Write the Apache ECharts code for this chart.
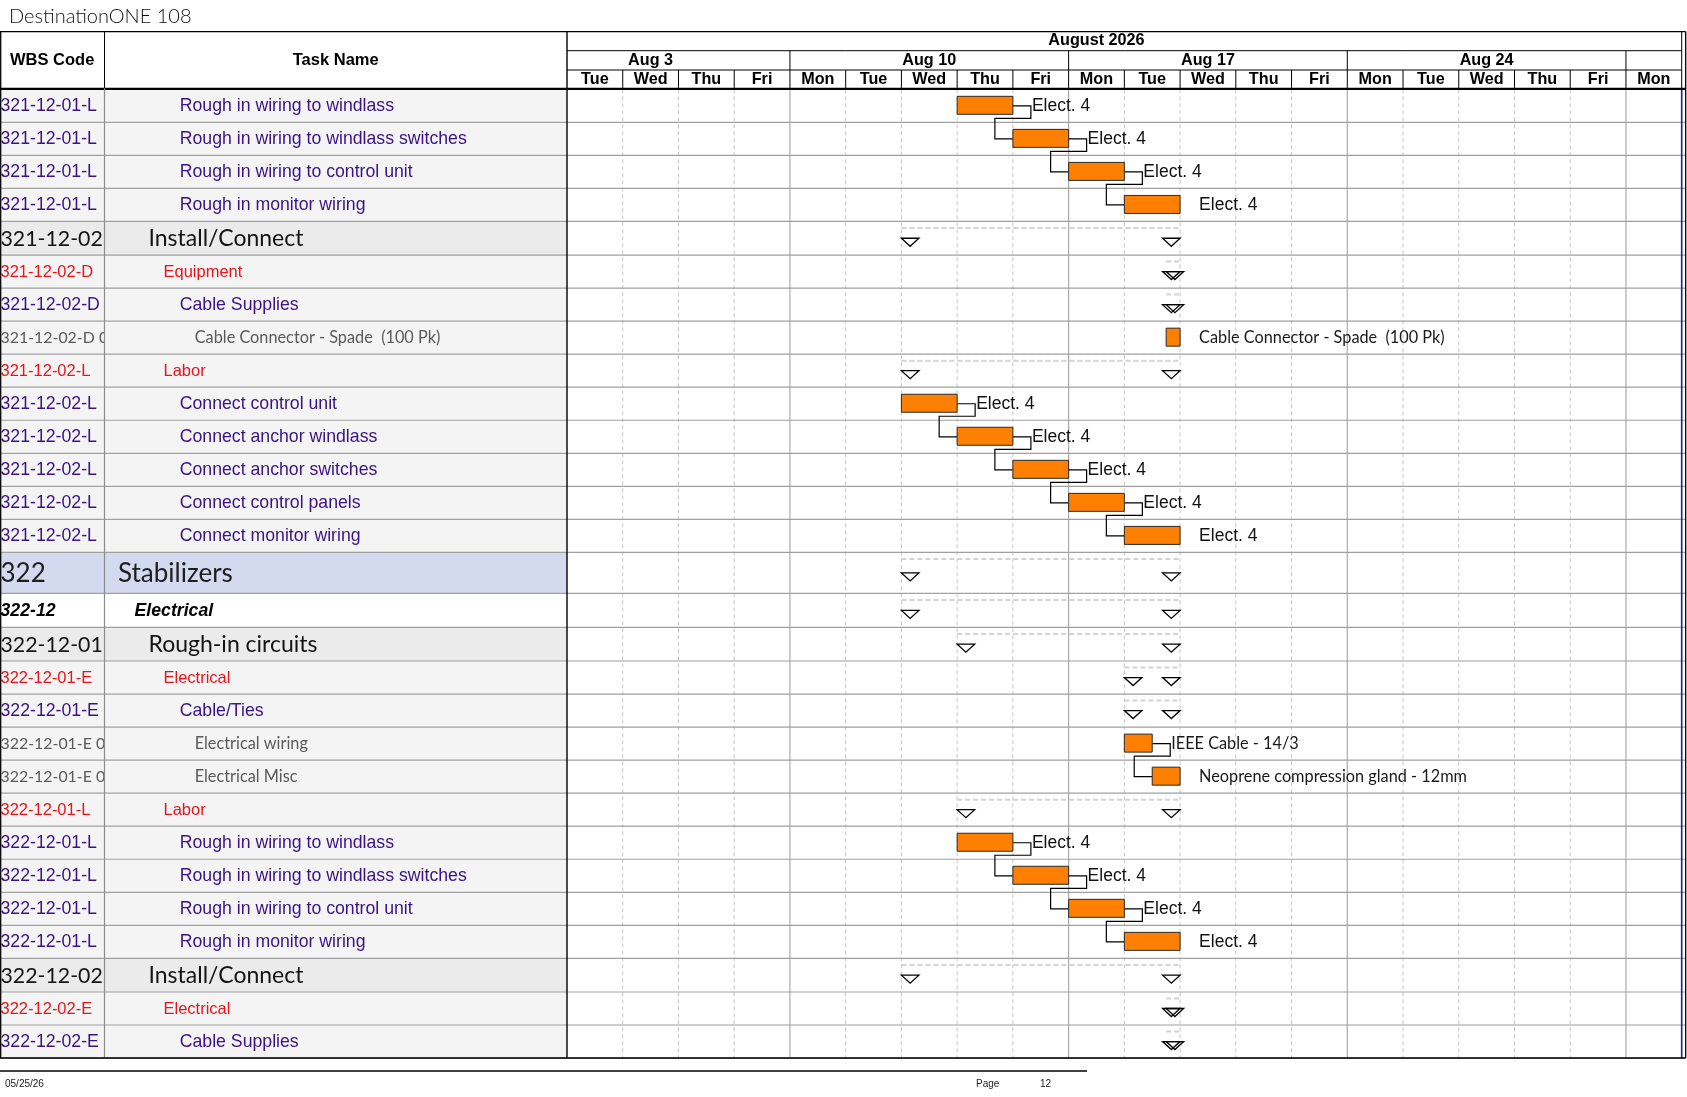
<!DOCTYPE html>
<html><head><meta charset="utf-8">
<script src="https://cdn.jsdelivr.net/npm/echarts@6/dist/echarts.min.js"></script>
<style>html,body{margin:0;padding:0;background:#fff}#c{width:1687px;height:1097px}</style>
</head><body><div id="c"></div>
<script>
// ---------------- data ----------------
const titleText = 'DestinationONE 108';
const footerDate = '05/25/26';
const footerPageLabel = 'Page';
const footerPageNumber = '12';
const headerWbs = 'WBS Code';
const headerTask = 'Task Name';
const monthLabel = 'August 2026';
const monthSpan = [-1, 20];
const weekLabels = ['Aug 3', 'Aug 10', 'Aug 17', 'Aug 24', ''];
const weekStarts = [-1, 4, 9, 14, 19];
const dayNames = ['Tue','Wed','Thu','Fri','Mon','Tue','Wed','Thu','Fri','Mon','Tue','Wed','Thu','Fri','Mon','Tue','Wed','Thu','Fri','Mon'];

const wbsCodes = [
  '321-12-01-L','321-12-01-L','321-12-01-L','321-12-01-L',
  '321-12-02','321-12-02-D','321-12-02-D','321-12-02-D 0','321-12-02-L',
  '321-12-02-L','321-12-02-L','321-12-02-L','321-12-02-L','321-12-02-L',
  '322','322-12','322-12-01','322-12-01-E','322-12-01-E','322-12-01-E 0','322-12-01-E 0',
  '322-12-01-L','322-12-01-L','322-12-01-L','322-12-01-L','322-12-01-L',
  '322-12-02','322-12-02-E','322-12-02-E'
];
const taskNames = [
  'Rough in wiring to windlass','Rough in wiring to windlass switches','Rough in wiring to control unit','Rough in monitor wiring',
  'Install/Connect','Equipment','Cable Supplies','Cable Connector - Spade  (100 Pk)','Labor',
  'Connect control unit','Connect anchor windlass','Connect anchor switches','Connect control panels','Connect monitor wiring',
  'Stabilizers','Electrical','Rough-in circuits','Electrical','Cable/Ties','Electrical wiring','Electrical Misc',
  'Labor','Rough in wiring to windlass','Rough in wiring to windlass switches','Rough in wiring to control unit','Rough in monitor wiring',
  'Install/Connect','Electrical','Cable Supplies'
];
const rowLevel = [
  'task','task','task','task',
  'phase','resource','group','item','resource',
  'task','task','task','task','task',
  'section','area','phase','resource','group','item','item',
  'resource','task','task','task','task',
  'phase','resource','group'
];

// bars (working-day index: 0 = Tue Aug 4)
const barRows   = [0, 1, 2, 3, 7, 9, 10, 11, 12, 13, 19, 20, 22, 23, 24, 25];
const barStart  = [7, 8, 9, 10, 10.75, 6, 7, 8, 9, 10, 10, 10.5, 7, 8, 9, 10];
const barEnd    = [8, 9, 10, 11, 11, 7, 8, 9, 10, 11, 10.5, 11, 8, 9, 10, 11];
const barLabels = ['Elect. 4','Elect. 4','Elect. 4','Elect. 4','Cable Connector - Spade  (100 Pk)',
  'Elect. 4','Elect. 4','Elect. 4','Elect. 4','Elect. 4',
  'IEEE Cable - 14/3','Neoprene compression gland - 12mm',
  'Elect. 4','Elect. 4','Elect. 4','Elect. 4'];
// finish-to-start links between bars (bar indices)
const links = [[0,1],[1,2],[2,3],[5,6],[6,7],[7,8],[8,9],[10,11],[12,13],[13,14],[14,15]];

// summary rows
const summaryRows  = [4, 5, 6, 8, 14, 15, 16, 17, 18, 21, 26, 27, 28];
const summaryStart = [6, 10.75, 10.75, 6, 6, 6, 7, 10, 10, 7, 6, 10.75, 10.75];
const summaryEnd   = [11, 11, 11, 11, 11, 11, 11, 11, 11, 11, 11, 11, 11];

// ---------------- layout / styles ----------------
const LAYOUT = {left:567, right:1681.7, outerRight:1685.7, top:89.3, headTop:31.7, monthBottom:50.7,
  weekBottom:70, headBottom:88.3, wbsRight:104.5};
const ROW_H = {task:33.04, resource:33.04, group:33.04, item:33.04, phase:33.6, section:41, area:34};
const FONT_A = '"Liberation Sans", Arial, sans-serif';
const FONT_C = 'Lato, "Open Sans", sans-serif';
const PURPLE = '#3a1385';
const LEVEL_STYLE = {
  task:     {indent:179.7, color:PURPLE,    family:FONT_A, size:17.7, wbsSize:17.7, weight:'normal', fstyle:'normal', bg:'#f4f4f4'},
  group:    {indent:179.7, color:PURPLE,    family:FONT_A, size:17.7, wbsSize:17.7, weight:'normal', fstyle:'normal', bg:'#f4f4f4'},
  resource: {indent:163.5, color:'#e8141c', family:FONT_A, size:16.5, wbsSize:16.5, weight:'normal', fstyle:'normal', bg:'#f4f4f4'},
  item:     {indent:194.7, color:'#5a5a5a', family:FONT_C, size:16.3, wbsSize:15.9, weight:'normal', fstyle:'normal', bg:'#f4f4f4'},
  phase:    {indent:148.5, color:'#141414', family:FONT_C, size:23,   wbsSize:21.3, weight:'normal', fstyle:'normal', bg:'#ebebeb'},
  section:  {indent:118,   color:'#1e1e1e', family:FONT_C, size:26,   wbsSize:26,   weight:'normal', fstyle:'normal', bg:'#d3d9ef'},
  area:     {indent:134.5, color:'#000000', family:FONT_A, size:17.7, wbsSize:17.7, weight:'bold',   fstyle:'italic', bg:'#ffffff'}
};

const rowTop = []; let acc = 0;
rowLevel.forEach(lv => { rowTop.push(acc); acc += ROW_H[lv]; });
const totalH = acc;
const rowMid = i => rowTop[i] + ROW_H[rowLevel[i]] / 2;
const rowBot = i => rowTop[i] + ROW_H[rowLevel[i]];

function txt(x, y, text, st, align, size) {
  return {type:'text', x:x, y:y, style:{text:text, fill:st.color, fontFamily:st.family, fontSize:size||st.size,
    fontWeight:st.weight, fontStyle:st.fstyle, align:align||'left', textAlign:align||'left',
    verticalAlign:'middle', textVerticalAlign:'middle'}};
}
const HEAD = {color:'#000', family:FONT_A, size:16.2, weight:'bold', fstyle:'normal'};

const rowData = rowLevel.map((lv, i) => [0, 0, rowTop[i], rowBot(i)]);

const series = [];
// WBS column background
series.push({type:'custom', z:1, silent:true, data:rowData, encode:{x:[0,1], y:[2,3]},
  renderItem:(p, api) => {
    const i = p.dataIndex;
    const y0 = api.coord([0, rowTop[i]])[1], y1 = api.coord([0, rowBot(i)])[1];
    return {type:'rect', shape:{x:0, y:y0, width:LAYOUT.wbsRight, height:y1-y0}, style:{fill:LEVEL_STYLE[rowLevel[i]].bg}};
  }});
// WBS codes
series.push({type:'custom', z:2, silent:true, data:rowData, encode:{x:[0,1], y:[2,3]},
  renderItem:(p, api) => {
    const i = p.dataIndex;
    const st = LEVEL_STYLE[rowLevel[i]];
    const y = api.coord([0, rowMid(i)])[1];
    return txt(0.5, y + 0.5, wbsCodes[i], st, 'left', st.wbsSize);
  }});
// Task column background (also hides WBS overflow)
series.push({type:'custom', z:3, silent:true, data:rowData, encode:{x:[0,1], y:[2,3]},
  renderItem:(p, api) => {
    const i = p.dataIndex;
    const y0 = api.coord([0, rowTop[i]])[1], y1 = api.coord([0, rowBot(i)])[1];
    return {type:'rect', shape:{x:LAYOUT.wbsRight, y:y0, width:LAYOUT.left-LAYOUT.wbsRight, height:y1-y0},
      style:{fill:LEVEL_STYLE[rowLevel[i]].bg}};
  }});
// Task names + row separator lines
series.push({type:'custom', z:4, silent:true, data:rowData, encode:{x:[0,1], y:[2,3]},
  renderItem:(p, api) => {
    const i = p.dataIndex;
    const st = LEVEL_STYLE[rowLevel[i]];
    const y = api.coord([0, rowMid(i)])[1];
    const yb = api.coord([0, rowBot(i)])[1];
    return {type:'group', children:[
      txt(st.indent, y + 0.5, taskNames[i], st),
      {type:'line', shape:{x1:0, y1:yb, x2:LAYOUT.outerRight, y2:yb}, style:{stroke:'#a0a0a0', lineWidth:1.2}}
    ]};
  }});
// gantt day grid lines
series.push({type:'custom', z:2, silent:true, data:dayNames.slice(1).map((d, k) => [k+1, k+1, 0, totalH]),
  encode:{x:[0,1], y:[2,3]},
  renderItem:(p, api) => {
    const k = p.dataIndex + 1;
    const a = api.coord([k, 0]), b = api.coord([k, totalH]);
    const week = dayNames[k] === 'Mon';
    return {type:'line', shape:{x1:a[0], y1:a[1], x2:b[0], y2:b[1]},
      style:{stroke: week ? '#ababab' : '#c6c6c6', lineWidth: week ? 1.2 : 1, lineDash: week ? null : [4, 3]}};
  }});
// header: day names
series.push({type:'custom', z:8, silent:true, data:dayNames.map((d, i) => [i, i+1, 0, 0]), encode:{x:[0,1], y:[2,3]},
  renderItem:(p, api) => {
    const i = p.dataIndex;
    const a = api.coord([api.value(0), 0])[0], b = api.coord([api.value(1), 0])[0];
    const ch = [txt((a+b)/2, 79.5, dayNames[i], HEAD, 'center')];
    if (i < dayNames.length - 1) ch.push({type:'line', shape:{x1:b, y1:LAYOUT.weekBottom, x2:b, y2:LAYOUT.headBottom}, style:{stroke:'#000', lineWidth:1}});
    return {type:'group', children:ch};
  }});
// header: week labels
series.push({type:'custom', z:8, silent:true, data:weekStarts.map((s, i) => [s, s+5, 0, 0]), encode:{x:[0,1], y:[2,3]},
  renderItem:(p, api) => {
    const i = p.dataIndex;
    const a = api.coord([api.value(0), 0])[0], b = api.coord([api.value(1), 0])[0];
    const ch = [txt((a+b)/2, 60.5, weekLabels[i], HEAD, 'center')];
    if (api.value(0) > 0) ch.push({type:'line', shape:{x1:a, y1:LAYOUT.monthBottom, x2:a, y2:LAYOUT.weekBottom}, style:{stroke:'#000', lineWidth:1}});
    return {type:'group', children:ch};
  }});
// header: month
series.push({type:'custom', z:8, silent:true, data:[[monthSpan[0], monthSpan[1], 0, 0]], encode:{x:[0,1], y:[2,3]},
  renderItem:(p, api) => {
    const a = api.coord([api.value(0), 0])[0], b = api.coord([api.value(1), 0])[0];
    return txt((a+b)/2, 41, monthLabel, HEAD, 'center');
  }});
// summary markers
series.push({type:'custom', z:7, silent:true,
  data:summaryRows.map((r, i) => [summaryStart[i], summaryEnd[i], rowTop[r], rowMid(r)]), encode:{x:[0,1], y:[2,3]},
  renderItem:(p, api) => {
    const s = api.coord([api.value(0), api.value(3)]), e = api.coord([api.value(1), api.value(3)]);
    const yt = api.coord([0, api.value(2)])[1];
    const cy = s[1], W = 17.5, H = 8;
    const tri = (x0) => ({type:'polygon', shape:{points:[[x0, cy], [x0+W, cy], [x0+W/2, cy+H]]},
      style:{fill:'none', stroke:'#000', lineWidth:1.3}});
    return {type:'group', children:[
      {type:'line', shape:{x1:s[0], y1:yt+6.5, x2:e[0], y2:yt+6.5}, style:{stroke:'#d2d2d2', lineWidth:2, lineDash:[5, 3]}},
      tri(e[0]-W), tri(s[0])
    ]};
  }});
// dependency links
series.push({type:'custom', z:6, silent:true,
  data:links.map(l => [barEnd[l[0]], barStart[l[1]], rowMid(barRows[l[0]]), rowMid(barRows[l[1]]), rowBot(barRows[l[0]])]),
  encode:{x:[0,1], y:[2,3]},
  renderItem:(p, api) => {
    const a = api.coord([api.value(0), api.value(2)]);
    const b = api.coord([api.value(1), api.value(3)]);
    const ym = api.coord([0, api.value(4)])[1] - 4;
    const d = 18;
    return {type:'polyline', shape:{points:[[a[0], a[1]], [a[0]+d, a[1]], [a[0]+d, ym], [b[0]-d, ym], [b[0]-d, b[1]], [b[0], b[1]]]},
      style:{fill:'none', stroke:'#000', lineWidth:1.2}};
  }});
// bars
series.push({type:'custom', z:7, silent:true,
  data:barRows.map((r, i) => [barStart[i], barEnd[i], rowMid(r), rowMid(r)]), encode:{x:[0,1], y:[2,3]},
  renderItem:(p, api) => {
    const i = p.dataIndex;
    const s = api.coord([api.value(0), api.value(2)]), e = api.coord([api.value(1), api.value(2)]);
    const item = rowLevel[barRows[i]] === 'item';
    const st = item ? {color:'#1a1a1a', family:FONT_C, size:16.3, weight:'normal', fstyle:'normal'}
                    : {color:'#111', family:FONT_A, size:17.5, weight:'normal', fstyle:'normal'};
    return {type:'group', children:[
      {type:'rect', shape:{x:s[0], y:s[1]-9.5, width:e[0]-s[0], height:18}, style:{fill:'#ff8000', stroke:'#2a2a2a', lineWidth:1}},
      txt(e[0]+19, s[1]+0.5, barLabels[i], st)
    ]};
  }});

const K = '#000';
const ln = (x1, y1, x2, y2, c, w) => ({type:'line', z:20, silent:true, shape:{x1, y1, x2, y2}, style:{stroke:c||K, lineWidth:w||1}});
const bottom = LAYOUT.top + totalH;
const graphics = [
  ln(0, LAYOUT.headTop, LAYOUT.outerRight, LAYOUT.headTop, K, 1.3),
  ln(LAYOUT.left, LAYOUT.monthBottom, LAYOUT.right, LAYOUT.monthBottom),
  ln(LAYOUT.left, LAYOUT.weekBottom, LAYOUT.right, LAYOUT.weekBottom),
  ln(0, LAYOUT.headBottom + 0.5, LAYOUT.outerRight, LAYOUT.headBottom + 0.5, K, 2.2),
  ln(0.7, LAYOUT.headTop, 0.7, bottom, K, 1.3),
  ln(LAYOUT.wbsRight, LAYOUT.headTop, LAYOUT.wbsRight, LAYOUT.headBottom, K, 1),
  ln(LAYOUT.wbsRight, LAYOUT.headBottom, LAYOUT.wbsRight, bottom, '#8c8c8c', 1.2),
  ln(LAYOUT.left, LAYOUT.headTop, LAYOUT.left, bottom, K, 1.4),
  ln(LAYOUT.right, LAYOUT.headTop, LAYOUT.right, LAYOUT.headBottom, K, 1),
  ln(LAYOUT.right, LAYOUT.headBottom + 1.5, LAYOUT.right, bottom, '#1e1e9a', 1.6),
  ln(LAYOUT.outerRight, LAYOUT.headTop, LAYOUT.outerRight, bottom, K, 1.3),
  ln(0, bottom, LAYOUT.outerRight, bottom, K, 1.6),
  ln(0, 1071, 1087, 1071, K, 1.5),
  {type:'text', z:20, silent:true, x:52.2, y:60, style:{text:headerWbs, fill:'#000', font:'bold 16.5px "Liberation Sans", Arial', align:'center', verticalAlign:'middle'}},
  {type:'text', z:20, silent:true, x:335.7, y:60, style:{text:headerTask, fill:'#000', font:'bold 16.5px "Liberation Sans", Arial', align:'center', verticalAlign:'middle'}},
  {type:'text', z:20, silent:true, x:5, y:1084, style:{text:footerDate, fill:'#222', font:'10px "Liberation Sans Narrow", "Liberation Sans", Arial', align:'left', verticalAlign:'middle'}},
  {type:'text', z:20, silent:true, x:976, y:1084, style:{text:footerPageLabel, fill:'#222', font:'10px "Liberation Sans Narrow", "Liberation Sans", Arial', align:'left', verticalAlign:'middle'}},
  {type:'text', z:20, silent:true, x:1040, y:1084, style:{text:footerPageNumber, fill:'#222', font:'10px "Liberation Sans Narrow", "Liberation Sans", Arial', align:'left', verticalAlign:'middle'}}
];

const chart = echarts.init(document.getElementById('c'), null, {renderer:'canvas'});
chart.setOption({
  animation:false,
  backgroundColor:'#ffffff',
  title:{text:titleText, left:4, top:2, textStyle:{fontFamily:FONT_C, fontSize:20, fontWeight:300, color:'#111111'}},
  grid:{left:LAYOUT.left, top:LAYOUT.top, width:LAYOUT.right-LAYOUT.left, height:totalH},
  xAxis:{type:'value', min:0, max:dayNames.length, show:false},
  yAxis:{type:'value', min:0, max:totalH, inverse:true, show:false},
  graphic:graphics,
  series:series
});
</script></body></html>
